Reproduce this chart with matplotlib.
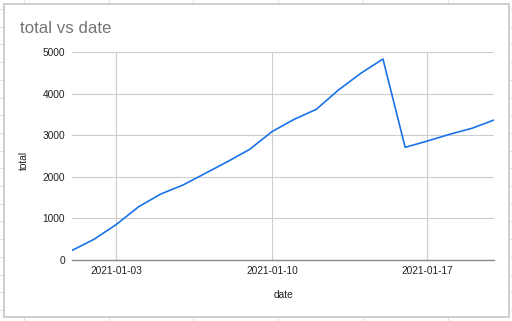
import matplotlib
matplotlib.use("Agg")
import matplotlib.pyplot as plt
import matplotlib.dates as mdates
import numpy as np
import pandas as pd
from matplotlib.patches import Rectangle
from matplotlib.lines import Line2D

dates = pd.date_range("2021-01-01", "2021-01-20", freq="D")
totals = [230, 500, 856, 1280, 1587, 1803, 2083, 2364, 2660, 3085,
          3381, 3622, 4087, 4487, 4832, 2708, 2860, 3021, 3165, 3365]
y_ticks = [0, 1000, 2000, 3000, 4000, 5000]
x_ticks = pd.to_datetime(["2021-01-03", "2021-01-10", "2021-01-17"])
x_tick_labels = ["2021-01-03", "2021-01-10", "2021-01-17"]

plt.rcParams['font.family'] = ['Liberation Sans', 'DejaVu Sans']

W, H = 512, 321
fig = plt.figure(figsize=(W / 100, H / 100), dpi=100)

# spreadsheet background grid (outside card)
bg = fig.add_axes([0, 0, 1, 1])
bg.set_xlim(0, W)
bg.set_ylim(H, 0)
bg.axis("off")
for x in np.arange(24, W, 84.7):
    bg.add_line(Line2D([x, x], [0, H], color="#e2e2e2", lw=0.8))
for y in np.arange(9.1, H, 17.7):
    bg.add_line(Line2D([0, W], [y, y], color="#e2e2e2", lw=0.8))
bg.add_patch(Rectangle((3.5, 3.5), 505, 313, facecolor="white",
                       edgecolor="#c6c6c6", lw=1.2, zorder=5))

bg.text(20, 33, "total vs date", fontsize=12.2, color="#757575",
        va="baseline", ha="left", zorder=6)
bg.text(283, 295, "date", fontsize=7.3, color="#222222",
        va="center", ha="center", zorder=6)
bg.text(24, 160, "total", fontsize=7.3, color="#222222", rotation=90,
        va="center", ha="center", zorder=6)

ax = fig.add_axes([72 / W, 1 - 260 / H, (494 - 72) / W, (260 - 52) / H])
ax.patch.set_alpha(0)
ax.plot(dates, totals, color="#1a73e8", lw=1.2, zorder=3)
ax.set_xlim(dates[0], dates[-1])
ax.set_ylim(0, 5000)
ax.set_yticks(y_ticks)
ax.set_yticklabels([str(v) for v in y_ticks])
ax.set_xticks(x_ticks)
ax.set_xticklabels(x_tick_labels)
ax.grid(True, color="#cccccc", lw=0.8)
ax.set_axisbelow(True)
for s in ["top", "right", "left"]:
    ax.spines[s].set_visible(False)
ax.spines["bottom"].set_color("#888888")
ax.spines["bottom"].set_linewidth(1.0)
ax.tick_params(axis="both", length=0, labelsize=7.3, labelcolor="#222222")
ax.tick_params(axis="y", pad=5)
ax.tick_params(axis="x", pad=4)

fig.savefig("out.png", dpi=100)
